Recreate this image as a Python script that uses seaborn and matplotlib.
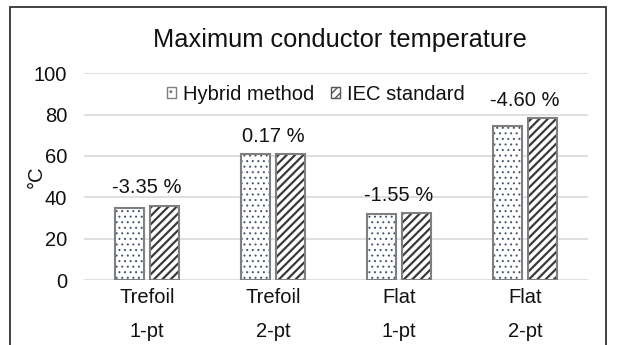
import matplotlib
matplotlib.use("Agg")
import matplotlib.pyplot as plt
import seaborn as sns
import pandas as pd
from matplotlib.patches import Patch, Rectangle

# ---- data ----
categories = ["Trefoil\n1-pt", "Trefoil\n2-pt", "Flat\n1-pt", "Flat\n2-pt"]
hybrid = [34.7, 60.9, 31.8, 74.6]
iec = [35.9, 60.8, 32.3, 78.2]
diff_labels = ["-3.35 %", "0.17 %", "-1.55 %", "-4.60 %"]
series_names = ["Hybrid method", "IEC standard"]
yticks = [0, 20, 40, 60, 80, 100]
title = "Maximum conductor temperature"
ylabel = "°C"

df = pd.DataFrame({
    "cat": categories * 2,
    "val": hybrid + iec,
    "series": [series_names[0]] * 4 + [series_names[1]] * 4,
})

sns.set_theme(style="white")
plt.rcParams["font.family"] = ["Liberation Sans", "DejaVu Sans"]
FS = 14.5
TC = "#111111"

W, H = 617, 345
fig = plt.figure(figsize=(W / 100, H / 100), dpi=100)
ax = fig.add_axes([84 / W, 1 - 280 / H, (588 - 84) / W, (280 - 73.3) / H])

sns.barplot(data=df, x="cat", y="val", hue="series", order=categories,
            hue_order=series_names, palette=["white", "white"],
            width=0.57, gap=0.19, ax=ax, legend=False, errorbar=None)

styles = [
    dict(hatch="...", hcolor="#44546a", hlw=0.7),
    dict(hatch="////", hcolor="#3a3a3a", hlw=1.6),
]
outline = "#7f7f7f"
for cont, st in zip(ax.containers, styles):
    for p in cont.patches:
        p.set_facecolor("white")
        p.set_hatch(st["hatch"])
        p.set_edgecolor(st["hcolor"])
        p.set_linewidth(0)
        if hasattr(p, "set_hatch_linewidth"):
            p.set_hatch_linewidth(st["hlw"])
        ax.add_patch(Rectangle(p.get_xy(), p.get_width(), p.get_height(),
                               fill=False, edgecolor=outline, linewidth=1.5,
                               zorder=p.get_zorder() + 0.1))

# difference labels above the taller bar
for i, lab in enumerate(diff_labels):
    top = max(hybrid[i], iec[i])
    ax.annotate(lab, xy=(i, top), xytext=(0, 9), textcoords="offset points",
                ha="center", va="baseline", fontsize=FS, color=TC)

ax.set_ylim(0, 100)
ax.set_xlim(-0.5, 3.5)
ax.set_yticks(yticks)
ax.set_yticklabels([str(v) for v in yticks])
ax.yaxis.grid(True, color="#d9d9d9", linewidth=1.2)
ax.set_axisbelow(True)
for s in ax.spines.values():
    s.set_visible(False)
ax.tick_params(axis="y", length=0, pad=12, labelsize=FS, labelcolor=TC)
ax.tick_params(axis="x", length=0, pad=6, labelsize=FS, labelcolor=TC)
for t in ax.get_xticklabels():
    t.set_linespacing(1.95)
ax.set_xlabel("")
ax.set_ylabel(ylabel, fontsize=FS, color=TC)
ax.yaxis.set_label_coords((46 - 84) / 504, 0.5)

fig.text(340 / W, 1 - 47 / H, title, ha="center", va="baseline",
         fontsize=18.3, color=TC)

handles = [
    Patch(facecolor="white", edgecolor="#7f7f7f", hatch="..", linewidth=1),
    Patch(facecolor="white", edgecolor="#555555", hatch="////", linewidth=1),
]
fig.legend(handles, series_names, loc="center", bbox_to_anchor=(316 / W, 1 - 94 / H),
           ncol=2, frameon=False, fontsize=FS, handlelength=0.45, handleheight=0.45,
           handletextpad=0.35, columnspacing=0.8, borderpad=0, labelcolor=TC)

# chart-area border
fig.add_artist(Rectangle((10 / W, -0.2), (606 - 10) / W, 1.2 - 7 / H,
                         transform=fig.transFigure, fill=False,
                         edgecolor="#333333", linewidth=1.3))

fig.savefig("out.png", dpi=100)
